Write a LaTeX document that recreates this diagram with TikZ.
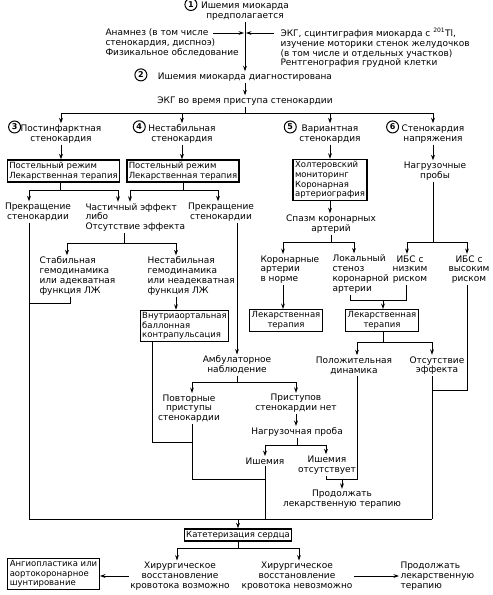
\documentclass[tikz,border=0pt]{standalone}
\usepackage{fontspec}
\setmainfont{DejaVu Sans}
\usetikzlibrary{arrows.meta}

\begin{document}
\begin{tikzpicture}[x=1pt,y=-1pt,line width=1pt,
    every node/.style={font=\fontsize{9}{9.8}\selectfont, inner sep=1pt},
    txt/.style={align=center},
    ltxt/.style={align=left, anchor=west},
    box/.style={draw, line width=1.4pt, inner sep=2pt, font=\fontsize{8.5}{9.6}\selectfont},
    num/.style={circle, draw, line width=1pt, inner sep=0pt, minimum size=12pt, font=\fontsize{8}{8}\selectfont\bfseries},
    arr/.style={-{Stealth[length=5.5pt,width=3.8pt]}}]
\useasboundingbox (0,0) rectangle (493,595);

% suspicion and diagnosis
    \node[txt] (ish1) at (245,11.5) {Ишемия миокарда\\предполагается};
    \node[ltxt] (anam) at (104,43) {Анамнез (в том числе\\стенокардия, диспноэ)\\Физикальное обследование};
    \node[ltxt] (ekg) at (279,48) {ЭКГ, сцинтиграфия миокарда с \textsuperscript{201}Tl,\\изучение моторики стенок желудочков\\(в том числе и отдельных участков)\\Рентгенография грудной клетки};
    \node[txt] (ish2) at (245,77) {Ишемия миокарда диагностирована};
    \node[txt] (ekgp) at (245,101) {ЭКГ во время приступа стенокардии};
    \coordinate (j1) at (245,33);
    \coordinate (anamR) at (213,33);
    \coordinate (ekgL) at (274,33);
    \draw[arr] (ish1.south) -- (ish2.north);
    \draw[arr] (anamR) -- ([xshift=-1pt]j1);
    \draw[arr] (ekgL) -- ([xshift=1pt]j1);
    \draw[arr] (ish2.south) -- (ekgp.north);

% four kinds of angina
    \node[txt] (s3) at (61,134) {Постинфарктная\\стенокардия};
    \node[txt] (s4) at (182,134) {Нестабильная\\стенокардия};
    \node[txt] (s5) at (330,134) {Вариантная\\стенокардия};
    \node[txt] (s6) at (433,134) {Стенокардия\\напряжения};
    \coordinate (k0) at (245,113);
    \draw (ekgp.south) -- (k0);
    \draw (k0 -| s3.north) -- (k0 -| s6.north);
    \foreach \s in {s3,s4,s5,s6}
      \draw[arr] (k0 -| \s.north) -- (\s.north);

    \node[num, anchor=north east] (c1) at ([xshift=-4pt,yshift=1pt]ish1.north west) {1};
    \node[num, anchor=north east] (c2) at ([xshift=-11pt,yshift=1pt]ish2.north west) {2};
    \node[num, anchor=north east] (c3) at ([yshift=1pt]s3.north west) {3};
    \node[num, anchor=north east] (c4) at ([xshift=-3pt,yshift=1pt]s4.north west) {4};
    \node[num, anchor=north east] (c5) at ([xshift=-3pt,yshift=1pt]s5.north west) {5};
    \node[num, anchor=north east] (c6) at ([xshift=-3pt,yshift=1pt]s6.north west) {6};

    \node[box, align=left] (bx3) at (63.5,171) {Постельный режим\\Лекарственная терапия};
    \node[box, align=left] (bx4) at (183,171) {Постельный режим\\Лекарственная терапия};
    \node[box, align=left] (bx5) at (330,180) {Холтеровский\\мониторинг\\Коронарная\\артериография};
    \node[txt] (np6) at (435,171) {Нагрузочные\\пробы};
    \draw[arr] (s3.south) -- (s3.south |- bx3.north);
    \draw[arr] (s4.south) -- (s4.south |- bx4.north);
    \draw[arr] (s5.south) -- (bx5.north);
    \draw[arr] (s6.south) -- (s6.south |- np6.north);

% post-infarction and unstable angina
    \node[txt] (stop3) at (38,212) {Прекращение\\стенокардии};
    \node[ltxt] (part) at (84,217.5) {Частичный эффект\\либо\\Отсутствие эффекта};
    \node[txt] (stop4) at (221,212) {Прекращение\\стенокардии};
    \coordinate (k3) at (60,190);
    \coordinate (k3a) at (29,190);
    \coordinate (k3b) at (118,190);
    \coordinate (k4) at (183,190);
    \coordinate (k4a) at (130,190);
    \coordinate (k4b) at (218,190);
    \draw (bx3.south -| k3) -- (k3) (k3a) -- (k3b);
    \draw (bx4.south -| k4) -- (k4) (k4a) -- (k4b);
    \draw[arr] (k3a) -- (k3a |- stop3.north);
    \draw[arr] (k3b) -- (k3b |- part.north);
    \draw[arr] (k4a) -- (k4a |- part.north);
    \draw[arr] (k4b) -- (k4b |- stop4.north);

    \node[ltxt] (stab) at (38,276) {Стабильная\\гемодинамика\\или адекватная\\функция ЛЖ};
    \node[ltxt] (unst) at (146,276) {Нестабильная\\гемодинамика\\или неадекватная\\функция ЛЖ};
    \node[box, align=left] (iabp) at (184.5,326) {Внутриаортальная\\баллонная\\контрапульсация};
    \coordinate (kp) at (124,243);
    \coordinate (kpa) at (67,243);
    \coordinate (kpb) at (176,243);
    \coordinate (ks) at (70,303);
    \coordinate (kb1) at (29,519);
    \draw (part.south -| kp) -- (kp) (kpa) -- (kpb);
    \draw[arr] (kpa) -- (kpa |- stab.north);
    \draw[arr] (kpb) -- (kpb |- unst.north);
    \draw[arr] (kpb |- unst.south) -- (kpb |- iabp.north);
    \draw (k3a |- stop3.south) -- (kb1);
    \draw (ks |- stab.south) -- (ks) -- (ks -| kb1);

% variant angina and exertional angina
    \node[txt] (spasm) at (331,224) {Спазм коронарных\\артерий};
    \node[ltxt] (norm) at (259,269.5) {Коронарные\\артерии\\в норме};
    \node[ltxt] (loc) at (331,274) {Локальный\\стеноз\\коронарной\\артерии};
    \node[txt] (low) at (410,269.5) {ИБС с\\низким\\риском};
    \node[txt] (high) at (469,269.5) {ИБС с\\высоким\\риском};
    \node[box, txt] (drug1) at (286,320.5) {Лекарственная\\терапия};
    \node[box, txt] (drug2) at (382,320.5) {Лекарственная\\терапия};
    \node[txt] (posd) at (354,365.5) {Положительная\\динамика};
    \node[txt] (noeff) at (437,365.5) {Отсутствие\\эффекта};
    \coordinate (kz) at (331,242);
    \coordinate (kza) at (283,242);
    \coordinate (kzb) at (354,242);
    \coordinate (k6) at (433,242);
    \coordinate (k6a) at (407,242);
    \coordinate (k6b) at (467,242);
    \coordinate (kL) at (350,300);
    \coordinate (kLb) at (406,300);
    \coordinate (kd) at (383,300);
    \coordinate (kg) at (383,342);
    \coordinate (kga) at (357,342);
    \coordinate (kgb) at (432,342);
    \coordinate (kh) at (467,390);
    \draw[arr] (bx5.south) -- (bx5.south |- spasm.north);
    \draw (spasm.south -| kz) -- (kz) (kza) -- (kzb);
    \draw[arr] (kza) -- (kza |- norm.north);
    \draw[arr] (kzb) -- (kzb |- loc.north);
    \draw (np6.south -| k6) -- (k6) (k6a) -- (k6b);
    \draw[arr] (k6a) -- (k6a |- low.north);
    \draw[arr] (k6b) -- (k6b |- high.north);
    \draw[arr] (kza |- norm.south) -- (kza |- drug1.north);
    \draw (kL |- loc.south) -- (kL) -- (kLb) -- (kLb |- low.south);
    \draw[arr] (kd) -- (kd |- drug2.north);
    \draw (drug2.south -| kg) -- (kg) (kga) -- (kgb);
    \draw[arr] (kga) -- (kga |- posd.north);
    \draw[arr] (kgb) -- (kgb |- noeff.north);
    \draw (k6b |- high.south) -- (kh) -- (kh -| kgb);
    \draw (kgb |- noeff.south) -- (kgb |- kb1);

% outpatient follow-up
    \node[txt] (amb) at (237,365) {Амбулаторное\\наблюдение};
    \node[txt] (rep) at (189,408.5) {Повторные\\приступы\\стенокардии};
    \node[txt] (noatt) at (296,403.5) {Приступов\\стенокардии нет};
    \node[txt] (load) at (297,432) {Нагрузочная проба};
    \node[txt] (isch) at (265,461) {Ишемия};
    \node[txt] (noisch) at (327,465) {Ишемия\\отсутствует};
    \node[txt] (cont1) at (342,499.5) {Продолжать\\лекарственную терапию};
    \coordinate (ka) at (237,382);
    \coordinate (kaa) at (192,382);
    \coordinate (kab) at (296,382);
    \coordinate (kl) at (297,445);
    \coordinate (kla) at (265,445);
    \coordinate (klb) at (326,445);
    \coordinate (ki) at (152,442);
    \coordinate (kr) at (192,479);
    \coordinate (kn) at (326,479);
    \coordinate (kq) at (357,479);
    \coordinate (kc) at (342,479);
    \draw[arr] (amb.north |- stop4.south) -- (amb.north);
    \draw (amb.south) -- (ka) (kaa) -- (kab);
    \draw[arr] (kaa) -- (kaa |- rep.north);
    \draw[arr] (kab) -- (kab |- noatt.north);
    \draw[arr] (noatt.south -| kab) -- (kab |- load.north);
    \draw (load.south) -- (kl) (kla) -- (klb);
    \draw[arr] (kla) -- (kla |- isch.north);
    \draw[arr] (klb) -- (klb |- noisch.north);
    \draw (ki |- iabp.south) -- (ki) -- (ki -| kr);
    \draw (kaa |- rep.south) -- (kr) -- (kr -| isch.south);
    \draw (isch.south) -- (isch.south |- kb1);
    \draw (kq |- posd.south) -- (kq) -- (kn) -- (kn |- noisch.south);
    \draw[arr] (kc) -- (kc |- cont1.north);

% catheterization
    \node[box] (cath) at (238,535) {Катетеризация сердца};
    \node[txt] (surgy) at (180,576) {Хирургическое\\восстановление\\кровотока возможно};
    \node[txt] (surgn) at (297,576) {Хирургическое\\восстановление\\кровотока невозможно};
    \node[box, align=left] (angio) at (53.5,574) {Ангиопластика или\\аортокоронарное\\шунтирование};
    \node[ltxt] (cont2) at (399,576) {Продолжать\\лекарственную\\терапию};
    \coordinate (kb) at (238,519);
    \coordinate (kt) at (238,548);
    \coordinate (kta) at (177,548);
    \coordinate (ktb) at (299,548);
    \draw (kb1) -- (kb1 -| kgb);
    \draw[arr] (kb) -- (kb |- cath.north);
    \draw (cath.south) -- (kt) (kta) -- (ktb);
    \draw[arr] (kta) -- (kta |- surgy.north);
    \draw[arr] (ktb) -- (ktb |- surgn.north);
    \draw[arr] (surgy.west) -- (surgy.west -| angio.east);
    \draw[arr] (surgn.east) -- (surgn.east -| cont2.west);
\end{tikzpicture}
\end{document}
